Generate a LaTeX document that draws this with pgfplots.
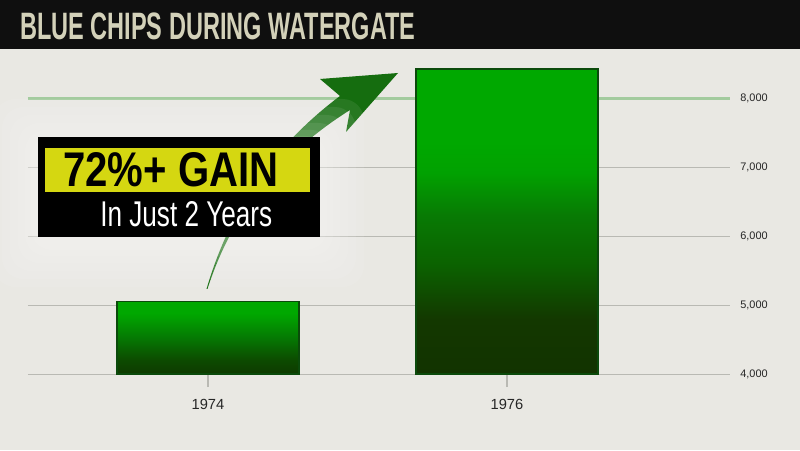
\documentclass[border=0pt]{standalone}
\usepackage{pgfplots}
\pgfplotsset{compat=1.18}
\usepackage{fontspec}
\setmainfont{Liberation Sans}
\usepackage{graphicx}

\definecolor{bg}{HTML}{E9E8E3}
\definecolor{titlebar}{HTML}{0F0F0F}
\definecolor{titletext}{HTML}{D3D1B9}
\definecolor{gridgray}{HTML}{B9B9B3}
\definecolor{greenline}{HTML}{A3CB9E}
\definecolor{calloutyellow}{HTML}{D5D711}
\definecolor{arrowgreen}{HTML}{156D0F}
\definecolor{barborder}{HTML}{0B4A0B}
\definecolor{brightgreen}{HTML}{00A800}
\definecolor{bAa}{HTML}{0E3A00}
\definecolor{bAb}{HTML}{0C4A00}
\definecolor{bAc}{HTML}{057A03}
\definecolor{bBa}{HTML}{123300}
\definecolor{bBb}{HTML}{133800}
\definecolor{bBc}{HTML}{0B6200}
\definecolor{bBd}{HTML}{087A04}

\pgfdeclareverticalshading{barA}{100bp}{color(0bp)=(bAa); color(25bp)=(bAa); color(34.5bp)=(bAb); color(50.5bp)=(bAc); color(67bp)=(brightgreen); color(75bp)=(brightgreen); color(100bp)=(brightgreen)}
\pgfdeclareverticalshading{barB}{100bp}{color(0bp)=(bBa); color(25bp)=(bBa); color(34bp)=(bBb); color(43bp)=(bBc); color(51bp)=(bBd); color(58bp)=(brightgreen!85!bBd); color(63bp)=(brightgreen); color(75bp)=(brightgreen); color(100bp)=(brightgreen)}

\begin{document}
\begin{tikzpicture}
\useasboundingbox (0,0) rectangle (600pt,337.5pt);
\fill[bg] (0,0) rectangle (600pt,337.5pt);
\fill[titlebar] (0,300.375pt) rectangle (600pt,337.5pt);

\begin{axis}[
  at={(21pt,57pt)}, anchor=south west,
  scale only axis, width=526.5pt, height=238.05pt,
  xmin=-0.602, xmax=1.746, ymin=4000, ymax=8600,
  xtick={0,1}, xticklabels={{1974},{\raisebox{-1.5pt}{1976}}},
  ytick={4000,5000,6000,7000},
  extra y ticks={8000},
  extra y tick style={grid style={greenline, line width=2.25pt}},
  ymajorgrids, grid style={gridgray, line width=0.75pt},
  axis line style={draw=none},
  tick align=outside, major tick length=9.75pt,
  xtick pos=bottom,
  xtick style={draw=gridgray, line width=0.9pt},
  ytick style={draw=none},
  yticklabel pos=right,
  scaled y ticks=false,
  /pgf/number format/1000 sep={,},
  /pgf/number format/assume math mode=true,
  yticklabel style={font=\fontsize{8.2}{10}\selectfont, anchor=west, xshift=-5.5pt, text=black!85},
  xticklabel style={font=\fontsize{11}{13}\selectfont, text=black!85, yshift=-6pt},
]
\addplot[draw=barborder, line width=1.1pt, shading=barA, shade]
  coordinates {(-0.3045,4000) (-0.3045,5050) (0.3045,5050) (0.3045,4000)} -- cycle;
\addplot[draw=barborder, line width=1.1pt, shading=barB, shade]
  coordinates {(0.6955,4000) (0.6955,8420) (1.3045,8420) (1.3045,4000)} -- cycle;
\end{axis}

\begin{scope}[x=0.75pt,y=-0.75pt,shift={(0pt,337.5pt)}]
  % title
  \node[anchor=base west, inner sep=0pt, text=titletext] at (20,40)
    {\resizebox{296.25pt}{20pt}{\bfseries BLUE CHIPS DURING WATERGATE}};
  % arrow
  \fill[arrowgreen] (206.5,289) .. controls (221,240) and (252,162) .. (340,96)
     -- (320,79) -- (398,73) -- (346,132) -- (350,110)
     .. controls (258,168) and (223,240) .. (207.5,289) -- cycle;
  % glow
  \foreach \r in {44,36,28,20,13,7} {
    \fill[white, opacity=0.08, rounded corners=16pt] (38-\r,137-\r+6) rectangle (320+\r,237+\r+6);
  }
  % callout
  \fill[black] (38,137) rectangle (320,237);
  \fill[calloutyellow] (45,148) rectangle (310,192);
  \node[anchor=base west, inner sep=0pt, text=black] at (63,187)
    {\resizebox{161.25pt}{25.5pt}{\bfseries 72\%+ GAIN}};
  \node[anchor=base west, inner sep=0pt, text=white] at (100,227)
    {\resizebox{129pt}{18.75pt}{In Just 2 Years}};
\end{scope}
\end{tikzpicture}
\end{document}
